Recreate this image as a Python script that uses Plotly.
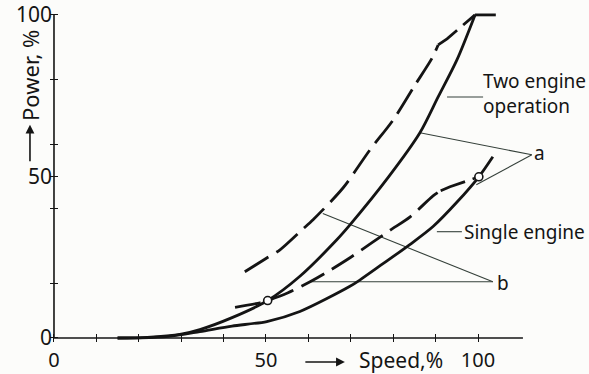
import plotly.graph_objects as go

# ---- data (speed %, power %) ----
two_a_speed = [15, 22, 30, 34.4, 42, 50.4, 58, 66.7, 69.8, 79, 86.3, 90.6, 95, 99.3]
two_a_power = [0, 0.2, 1.2, 2.6, 6.3, 11.6, 19.1, 30.4, 35.0, 50, 63.5, 74.6, 86, 100]
two_top_speed = [99.3, 104.2]
two_top_power = [100, 100]

two_b_speed = [45, 50, 53.3, 58.5, 61.1, 68.2, 74.5, 80, 85, 89.2, 90.6]
two_b_power = [20.5, 24.6, 27.3, 33.5, 36.6, 46.5, 58.2, 67.5, 78, 86.7, 90.7]
two_b_end_speed = [90.6, 92.7, 99.3]
two_b_end_power = [90.7, 92.6, 100]

one_a_speed = [15, 20.3, 27, 34.4, 42, 50.2, 58, 69.8, 72.2, 77.6, 84, 89.4, 95, 100.2, 103.5]
one_a_power = [0, 0.05, 0.5, 2.0, 3.7, 5.1, 8.2, 16.0, 18.0, 23.0, 29.0, 34.5, 42, 49.9, 56.1]

one_b_speed = [42.7, 48.6, 50.4, 55.2, 60.4, 63.9, 70, 75, 79.2, 84, 89.4, 91.2]
one_b_power = [9.5, 10.9, 11.6, 14.0, 17.4, 20.0, 25, 29.5, 33.3, 37.5, 44.0, 45.6]
one_b_end_speed = [91.2, 93.4, 100.2]
one_b_end_power = [45.6, 46.8, 49.9]

point_speed = [50.4, 100.2]
point_power = [11.6, 49.9]

x_ticks = [0, 10, 20, 30, 40, 50, 60, 70, 80, 90, 100]
x_labels = ["0", "", "", "", "", "50", "", "", "", "", "100"]
y_ticks = [0, 17, 40, 50, 60, 80, 100]
y_labels = ["0", "", "", "50", "", "", "100"]
x_axis_end = 110.6

# leader lines
lead_two_x = [92.7, 101.2]; lead_two_y = [74.6, 74.6]
lead_one_x = [90.3, 96.2]; lead_one_y = [32.9, 32.9]
lead_a1_x = [86.3, 112.7]; lead_a1_y = [63.5, 56.7]
lead_a2_x = [99.6, 112.7]; lead_a2_y = [47.4, 56.7]
lead_b1_x = [63.4, 103.5]; lead_b1_y = [38.5, 17.4]
lead_b2_x = [60.4, 103.5]; lead_b2_y = [17.4, 17.4]

INK = "#141414"
LEAD = "#35403a"
FONT = "Noto Sans"

fig = go.Figure()

def curve(x, y, dash="solid", shape="spline"):
    fig.add_trace(go.Scatter(x=x, y=y, mode="lines",
                             line=dict(color=INK, width=2.8, dash=dash, shape=shape,
                                       smoothing=0.8 if shape == "spline" else None),
                             hoverinfo="skip", showlegend=False))

def lead(x, y):
    fig.add_trace(go.Scatter(x=x, y=y, mode="lines",
                             line=dict(color=LEAD, width=1.1),
                             hoverinfo="skip", showlegend=False))

for lx, ly in [(lead_two_x, lead_two_y), (lead_one_x, lead_one_y), (lead_a1_x, lead_a1_y),
               (lead_a2_x, lead_a2_y), (lead_b1_x, lead_b1_y), (lead_b2_x, lead_b2_y)]:
    lead(lx, ly)

curve(two_a_speed, two_a_power)
curve(two_top_speed, two_top_power, shape="linear")
curve(one_a_speed, one_a_power)
curve(two_b_speed, two_b_power, dash="28px,9px")
curve(two_b_end_speed, two_b_end_power, dash="24px,8px", shape="linear")
curve(one_b_speed, one_b_power, dash="26px,9px")
curve(one_b_end_speed, one_b_end_power, dash="26px,8px", shape="linear")

fig.add_trace(go.Scatter(x=point_speed, y=point_power, mode="markers",
                         marker=dict(symbol="circle", size=8, color="white",
                                     line=dict(color=INK, width=1.6)),
                         hoverinfo="skip", showlegend=False))

fig.add_shape(type="line", xref="x", yref="y", x0=0, y0=0, x1=x_axis_end, y1=0,
              line=dict(color=INK, width=1.6))
fig.add_shape(type="line", xref="x", yref="y", x0=0, y0=0, x1=0, y1=100,
              line=dict(color=INK, width=1.6))

ann = []
def text(s, x, y, size=19, xanchor="left", xref="x", yref="y", angle=0):
    ann.append(dict(text=s, x=x, y=y, xref=xref, yref=yref, xanchor=xanchor,
                    yanchor="middle", showarrow=False, textangle=angle,
                    font=dict(family=FONT, size=size, color=INK)))

text("Two engine", 100.8, 79.5)
text("operation", 100.8, 71.9)
text("Single engine", 96.2, 32.9)
text("a", 114.4, 57.3, xanchor="center")
text("b", 105.9, 17.1, xanchor="center")
text("Speed,%", 71.5, -0.0545, size=21, yref="paper")
text("Power, %", -0.0375, 81.4, size=22, xanchor="center", xref="paper", angle=-90)

# arrows of the axis titles
ann.append(dict(text="", x=68.6, y=-0.0606, xref="x", yref="paper", showarrow=True,
                ax=-41, ay=0, arrowhead=2, arrowsize=1.1, arrowwidth=1.6, arrowcolor=INK,
                standoff=0, startstandoff=0))
ann.append(dict(text="", x=-0.0375, y=66, xref="paper", yref="y", showarrow=True,
                ax=0, ay=38, arrowhead=2, arrowsize=1.1, arrowwidth=1.6, arrowcolor=INK,
                standoff=0, startstandoff=0))

fig.update_layout(
    width=589, height=374,
    margin=dict(l=50, r=5, t=12, b=32),
    paper_bgcolor="#fcfcfa", plot_bgcolor="#fcfcfa",
    annotations=ann,
    xaxis=dict(range=[-0.94, 125], showgrid=False, zeroline=False, showline=False,
               automargin=False, ticklabeloverflow="allow", ticklabelstandoff=4,
               tickmode="array", tickvals=x_ticks, ticktext=x_labels,
               ticks="inside", ticklen=8, tickwidth=1.4, tickcolor=INK,
               tickfont=dict(family=FONT, size=20, color=INK)),
    yaxis=dict(range=[-1.24, 100.9], showgrid=False, zeroline=False, showline=False,
               automargin=False, ticklabeloverflow="allow", ticklabelstandoff=-3,
               tickmode="array", tickvals=y_ticks, ticktext=y_labels,
               ticks="inside", ticklen=8, tickwidth=1.4, tickcolor=INK,
               tickfont=dict(family=FONT, size=21, color=INK)),
)

fig.write_html("out.html", config={"displayModeBar": False},
               post_script="document.body.style.margin='0';")
